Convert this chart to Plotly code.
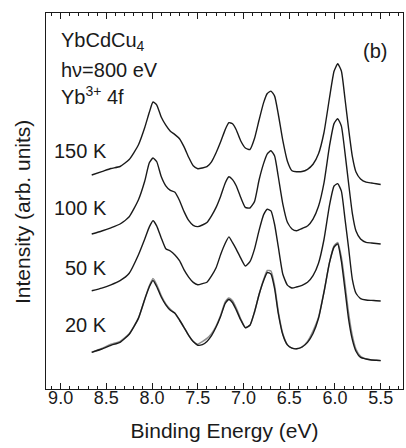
import plotly.graph_objects as go

# Binding energy grid (eV) shared by all spectra
energy = [8.66, 8.55, 8.45, 8.35, 8.25, 8.15, 8.08, 8.03, 7.99, 7.95,
          7.90, 7.85, 7.80, 7.75, 7.70, 7.65, 7.60, 7.55, 7.50, 7.45,
          7.40, 7.35, 7.30, 7.25, 7.20, 7.16, 7.12, 7.08, 7.03, 6.98,
          6.93, 6.88, 6.83, 6.78, 6.74, 6.70, 6.66, 6.62, 6.57, 6.52,
          6.47, 6.42, 6.36, 6.30, 6.24, 6.18, 6.12, 6.06, 6.01, 5.97,
          5.93, 5.89, 5.85, 5.81, 5.77, 5.72, 5.66, 5.60, 5.55, 5.50]

# Yb3+ 4f spectra, vertically offset (arb. units)
int_150K = [214, 217.3, 220.5, 222.5, 229.5, 244, 261.5, 276.7, 287, 284.2,
            272, 263.8, 257.8, 254.4, 250.3, 242.1, 231.8, 223.2, 220.3, 221,
            222.3, 227.2, 236.3, 247.2, 259.4, 266.3, 265.2, 259.3, 248, 241,
            239.5, 250.5, 269, 286.4, 295.5, 297.9, 292.9, 275, 248.3, 227.8,
            218.3, 217.3, 217.5, 219.7, 224.7, 235.2, 256.5, 291, 317.7, 325.2,
            318, 290, 259.7, 232.7, 217, 210, 206.8, 206, 205.3, 204.5]

int_100K = [155, 158, 161.2, 165, 172.3, 189, 208, 226.2, 231, 227.5,
            212.5, 203.2, 198.6, 196.7, 188.5, 177.4, 168.6, 163.7, 162.4, 164,
            166.6, 173.2, 181.6, 192.8, 206, 212.2, 209.4, 203.2, 191.4, 181.6,
            181, 187.4, 209, 225.6, 235.1, 238.2, 233, 212.5, 184.9, 166.7,
            160, 158.3, 160.5, 163, 169.9, 182.7, 206.1, 242.9, 265.4, 270.3,
            262.9, 235.9, 205, 175.7, 158, 150, 146.6, 146, 145.5, 145]

int_50K = [98.3, 100.9, 104.2, 108.4, 115.8, 134, 150, 162.1, 168.3, 163.2,
           151.1, 140.3, 138, 134.1, 128.3, 119.1, 111.9, 106.6, 104.2, 105.4,
           106.8, 113.1, 121.2, 134.5, 145.7, 152.1, 146.3, 139.9, 130.8, 123,
           127.3, 139.9, 158.6, 174.4, 179.8, 178.1, 164.5, 142.3, 114.7, 103.9,
           101, 102, 103.7, 106.7, 113.3, 125.7, 149.5, 183.7, 203, 205.3,
           197.9, 169.8, 140.4, 109.7, 95.8, 90.4, 89, 88.6, 88.3, 88]

int_20K = [36.7, 40, 43.7, 46.7, 54.8, 70.6, 89.8, 102.2, 108.5, 102.5,
           92, 84.2, 78.7, 75.8, 69, 61.4, 53.6, 47.4, 43.8, 44.4,
           47.6, 53.4, 62, 72.8, 85.6, 89.5, 86.3, 79.1, 69, 61.3,
           63.7, 77, 94.5, 108.5, 116.5, 115, 100.3, 75.7, 54.2, 44.1,
           40.9, 40.2, 42, 46.6, 55.5, 70.7, 97, 126.3, 142, 145,
           127.8, 99, 69.4, 49.4, 37.8, 31.6, 30, 29, 28.7, 28.4]

# second 20 K spectrum (grey) overlaid on the first
int_20K_b = [36.7, 40.5, 44.7, 47.7, 55.3, 70.6, 89.8, 103.2, 110.5, 104.5,
             93.5, 85.2, 79.7, 75.8, 69, 61.4, 53.6, 47.4, 44.8, 47.4,
             50.6, 55.4, 63, 73.8, 87.1, 91, 88.3, 81.1, 70, 61.3,
             63.7, 77, 94.5, 109.5, 118.5, 118, 103.3, 77.7, 55.2, 44.1,
             40.9, 40.2, 42, 47.6, 58, 71.7, 97, 126.3, 143, 146.5,
             131.8, 105, 75.4, 53.4, 39.8, 32.6, 30, 29, 28.7, 28.4]

temps = ["150 K", "100 K", "50 K", "20 K"]
temp_label_y = [238.5, 181, 121, 64.5]

FONT = "Liberation Sans, Arial, Helvetica, sans-serif"
DARK = "#1a1a1a"

fig = go.Figure()

fig.add_trace(go.Scatter(x=energy, y=int_20K_b, mode="lines",
                         line=dict(color="#8e8e8e", width=1.5, shape="spline", smoothing=0.5),
                         showlegend=False, hoverinfo="skip"))
for ys in (int_20K, int_50K, int_100K, int_150K):
    fig.add_trace(go.Scatter(x=energy, y=ys, mode="lines",
                             line=dict(color=DARK, width=1.4, shape="spline", smoothing=0.5),
                             showlegend=False, hoverinfo="skip"))

annotations = []
for t, ty in zip(temps, temp_label_y):
    annotations.append(dict(x=8.47, y=ty, xref="x", yref="y", text=t,
                            showarrow=False, xanchor="right", yanchor="middle",
                            font=dict(size=20, color=DARK, family=FONT)))

info_lines = ["YbCdCu<sub>4</sub>", "hν=800 eV", "Yb<sup>3+</sup> 4f"]
info_y = [347.5, 319.5, 294]
for txt, ty in zip(info_lines, info_y):
    annotations.append(dict(x=9.02, y=ty, xref="x", yref="y", text=txt,
                            showarrow=False, xanchor="left", yanchor="middle",
                            font=dict(size=20, color=DARK, family=FONT)))

annotations.append(dict(x=5.41, y=338, xref="x", yref="y", text="(b)",
                        showarrow=False, xanchor="right", yanchor="middle",
                        font=dict(size=20, color=DARK, family=FONT)))

annotations.append(dict(x=-0.064, y=0.471, xref="paper", yref="paper",
                        text="Intensity (arb. units)", textangle=-90,
                        showarrow=False, xanchor="center", yanchor="middle",
                        font=dict(size=21, color=DARK, family=FONT)))

fig.update_layout(
    width=406, height=448,
    margin=dict(l=46, r=3, t=13, b=59),
    paper_bgcolor="white", plot_bgcolor="white",
    font=dict(family=FONT, color=DARK),
    annotations=annotations,
    xaxis=dict(
        range=[9.16, 5.256], autorange=False,
        tickmode="array",
        tickvals=[9.0, 8.5, 8.0, 7.5, 7.0, 6.5, 6.0, 5.5],
        ticktext=["9.0", "8.5", "8.0", "7.5", "7.0", "6.5", "6.0", "5.5"],
        ticks="inside", ticklen=6, tickwidth=1, tickcolor=DARK,
        minor=dict(dtick=0.1, tick0=5.0, ticks="inside", ticklen=3,
                   tickwidth=1, tickcolor=DARK, showgrid=False),
        showline=True, linecolor=DARK, linewidth=1.3, mirror="allticks",
        showgrid=False, zeroline=False,
        ticklabelstandoff=-8,
        tickfont=dict(size=18, color=DARK, family=FONT),
        title=dict(text="Binding Energy (eV)", standoff=16,
                   font=dict(size=21, color=DARK, family=FONT)),
    ),
    yaxis=dict(
        range=[0, 376], autorange=False,
        showticklabels=False, ticks="",
        showline=True, linecolor=DARK, linewidth=1.3, mirror=True,
        showgrid=False, zeroline=False,
    ),
)

fig.write_html("out.html")
